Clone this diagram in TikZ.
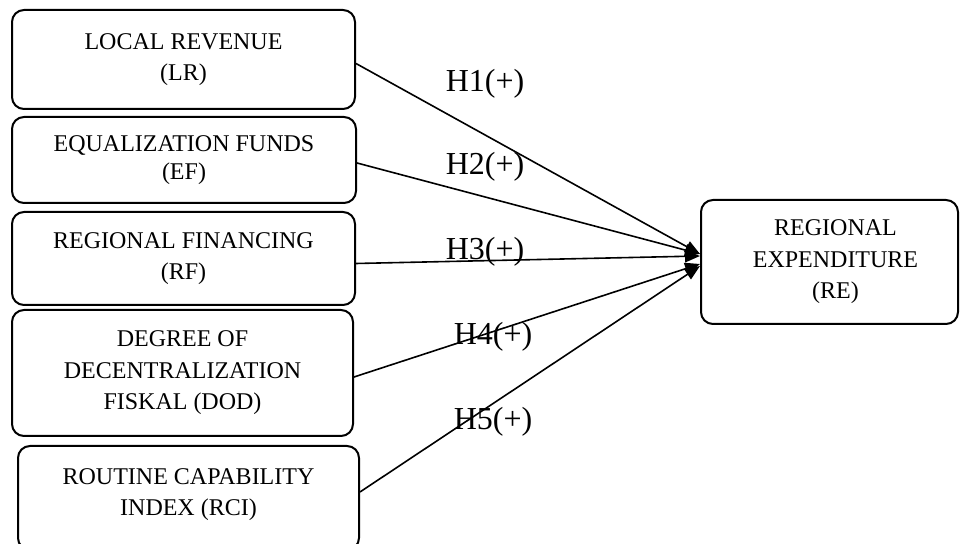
\documentclass[tikz,border=0pt]{standalone}
\usepackage{fontspec}
\setmainfont{Liberation Serif}
\usetikzlibrary{arrows.meta}

\tikzset{
  factor/.style={draw, line width=1pt, rounded corners=6pt, align=center,
    inner sep=0pt, font=\fontsize{12}{15.75}\selectfont},
  hyp/.style={anchor=base, font=\fontsize{16}{19}\selectfont},
  link/.style={line width=0.8pt, -{Triangle[length=7.5pt,width=6pt]}}
}

\begin{document}
\begin{tikzpicture}[x=0.5pt, y=-0.5pt]

\useasboundingbox (0,0) rectangle (960,544);

% Independent variables
\node[factor, minimum width=171.5pt, minimum height=49.5pt] (lr) at (183.5,59.5)
  {LOCAL REVENUE\\(LR)};
\node[factor, minimum width=172pt, minimum height=43pt,
  font=\fontsize{12}{13.85}\selectfont] (ef) at (184,160)
  {EQUALIZATION FUNDS\\(EF)};
\node[factor, minimum width=171.5pt, minimum height=46.5pt] (rf) at (183.5,258.5)
  {REGIONAL FINANCING\\(RF)};
\node[factor, minimum width=170.5pt, minimum height=63pt] (dod) at (182.5,373)
  {DEGREE OF\\DECENTRALIZATION\\FISKAL (DOD)};
\node[factor, minimum width=170.5pt, minimum height=52pt] (rci) at (188.5,498)
  {ROUTINE CAPABILITY\\INDEX (RCI)\\[-9.75pt]\mbox{}};

% Dependent variable
\node[factor, minimum width=128.5pt, minimum height=62pt] (re) at (829.5,262)
  {\hspace*{6pt}REGIONAL\\\hspace*{6pt}EXPENDITURE\\\hspace*{6pt}(RE)};

% Hypotheses
\draw[link] ([yshift=-2pt]lr.east) -- ([yshift=4pt]re.west);
\draw[link] ([yshift=-1.5pt]ef.east) -- ([yshift=4pt]re.west);
\draw[link] ([yshift=-2.5pt]rf.east) -- ([yshift=3pt]re.west);
\draw[link] ([yshift=-2pt]dod.east) -- ([yshift=-1pt]re.west);
\draw[link] ([yshift=3pt]rci.east) -- ([yshift=-2pt]re.west);

\node[hyp] (h1) at (485,91.7) {H1(+)};
\node[hyp] (h2) at (485,175) {H2(+)};
\node[hyp] (h3) at (485,260) {H3(+)};
\node[hyp] (h4) at (493,345) {H4(+)};
\node[hyp] (h5) at (493,430) {H5(+)};

\end{tikzpicture}
\end{document}
